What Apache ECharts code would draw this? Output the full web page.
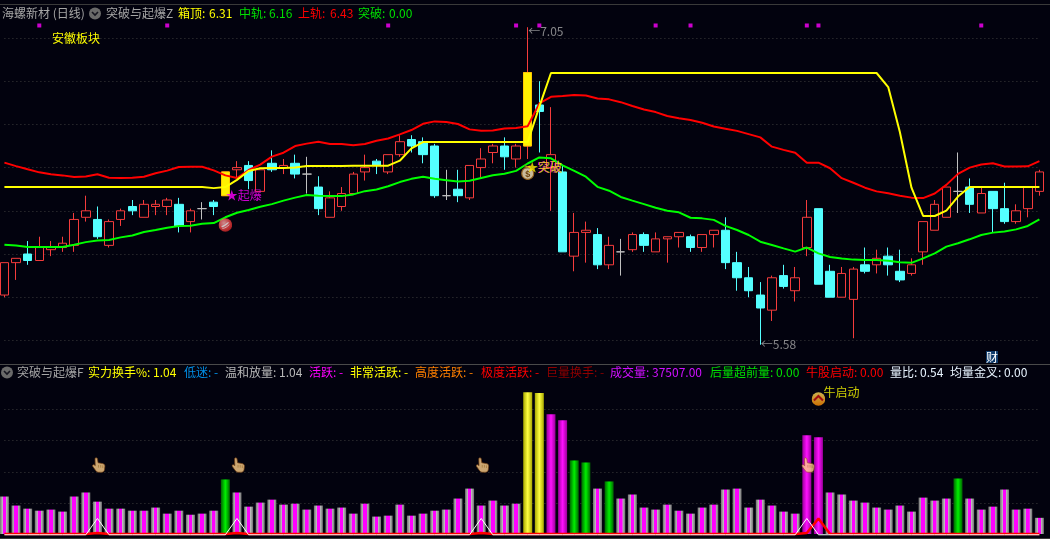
<!DOCTYPE html>
<html><head><meta charset="utf-8">
<style>html,body{margin:0;padding:0;background:#02020e;overflow:hidden}#c{width:1050px;height:539px}</style>
<script src="https://cdn.jsdelivr.net/npm/echarts@6/dist/echarts.min.js"></script>
</head><body><div id="c"></div>
<script>
// [open, close, low, high]
const candles = [
[5.81,5.96,5.80,5.96],[5.96,5.98,5.88,5.98],[6.00,5.97,5.95,6.06],[5.97,6.03,5.97,6.08],[6.02,6.03,5.99,6.06],
[6.03,6.05,6.01,6.08],[6.04,6.16,6.01,6.19],[6.17,6.20,6.15,6.27],[6.16,6.08,6.07,6.22],[6.04,6.15,6.03,6.16],
[6.16,6.20,6.13,6.21],[6.22,6.20,6.18,6.25],[6.17,6.23,6.17,6.25],[6.22,6.23,6.18,6.25],[6.22,6.25,6.18,6.26],
[6.23,6.13,6.10,6.26],[6.15,6.20,6.10,6.21],[6.21,6.21,6.16,6.24],[6.24,6.22,6.18,6.25],[6.27,6.38,6.27,6.38],
[6.39,6.40,6.35,6.43],[6.41,6.34,6.30,6.43],[6.29,6.39,6.29,6.40],[6.42,6.39,6.38,6.48],[6.40,6.41,6.37,6.44],
[6.42,6.37,6.35,6.46],[6.37,6.37,6.28,6.45],[6.31,6.21,6.18,6.36],[6.17,6.26,6.17,6.29],[6.22,6.28,6.20,6.31],
[6.28,6.37,6.28,6.38],[6.38,6.40,6.34,6.46],[6.43,6.41,6.37,6.44],[6.38,6.46,6.37,6.46],[6.46,6.52,6.45,6.55],
[6.53,6.50,6.47,6.55],[6.52,6.46,6.42,6.54],[6.50,6.27,6.26,6.51],[6.27,6.27,6.25,6.39],[6.30,6.27,6.24,6.39],
[6.26,6.41,6.25,6.41],[6.40,6.44,6.35,6.49],[6.47,6.50,6.42,6.51],[6.50,6.45,6.39,6.54],[6.44,6.50,6.40,6.51],
[6.50,6.84,6.44,7.05],[6.69,6.66,6.47,6.80],[6.40,6.46,6.20,6.68],[6.38,6.01,6.01,6.41],[5.99,6.10,5.92,6.19],
[6.10,6.11,5.96,6.15],[6.09,5.95,5.93,6.12],[5.95,6.04,5.93,6.08],[6.01,6.01,5.90,6.07],[6.02,6.09,6.01,6.10],
[6.09,6.04,6.01,6.10],[6.01,6.07,6.01,6.10],[6.07,6.08,5.96,6.08],[6.08,6.10,6.03,6.10],[6.08,6.03,6.01,6.09],
[6.03,6.09,6.01,6.09],[6.09,6.11,6.03,6.11],[6.11,5.96,5.93,6.17],[5.96,5.89,5.83,6.01],[5.89,5.83,5.80,5.94],
[5.81,5.75,5.58,5.87],[5.74,5.89,5.69,5.90],[5.90,5.85,5.84,5.95],[5.83,5.89,5.78,5.94],[6.03,6.17,5.99,6.25],
[6.21,5.86,5.86,6.21],[5.92,5.80,5.80,5.95],[5.80,5.91,5.80,5.94],[5.79,5.93,5.61,5.94],[5.95,5.92,5.91,6.03],
[5.95,5.98,5.91,6.02],[5.99,5.95,5.90,6.03],[5.92,5.88,5.87,6.02],[5.91,5.95,5.90,5.98],[6.01,6.15,5.95,6.15],
[6.11,6.23,6.11,6.25],[6.17,6.31,6.17,6.31],[6.29,6.29,6.19,6.47],[6.31,6.23,6.19,6.35],[6.19,6.28,6.19,6.31],
[6.29,6.21,6.10,6.29],[6.21,6.15,6.14,6.33],[6.15,6.20,6.14,6.23],[6.21,6.31,6.17,6.31],[6.29,6.38,6.27,6.39]];
const upperBand = [6.423,6.407,6.392,6.378,6.369,6.364,6.356,6.359,6.369,6.353,6.352,6.353,6.358,6.374,6.386,6.403,6.404,6.404,6.387,6.364,
6.352,6.389,6.414,6.451,6.469,6.50,6.511,6.52,6.509,6.509,6.504,6.509,6.524,6.535,6.554,6.574,6.603,6.614,6.611,6.602,
6.577,6.571,6.572,6.581,6.583,6.592,6.697,6.728,6.731,6.736,6.734,6.72,6.716,6.703,6.685,6.669,6.657,6.639,6.629,6.62,
6.608,6.59,6.58,6.57,6.555,6.54,6.497,6.482,6.469,6.423,6.423,6.397,6.351,6.33,6.307,6.29,6.281,6.27,6.261,6.259,
6.28,6.32,6.371,6.40,6.414,6.42,6.405,6.405,6.406,6.43];
const midBand = [6.043,6.039,6.032,6.032,6.032,6.032,6.043,6.055,6.062,6.065,6.077,6.086,6.102,6.111,6.122,6.13,6.131,6.14,6.143,6.17,
6.191,6.204,6.219,6.231,6.247,6.261,6.273,6.27,6.268,6.268,6.276,6.291,6.299,6.314,6.333,6.348,6.358,6.348,6.342,6.336,
6.339,6.352,6.365,6.372,6.385,6.419,6.447,6.443,6.41,6.385,6.358,6.311,6.293,6.264,6.247,6.231,6.214,6.20,6.193,6.168,
6.165,6.158,6.13,6.111,6.088,6.057,6.042,6.026,6.011,6.03,6.003,5.986,5.979,5.974,5.972,5.972,5.969,5.962,5.959,5.98,
6.003,6.034,6.05,6.068,6.088,6.099,6.104,6.114,6.13,6.16];
const boxTop = [6.31,6.31,6.31,6.31,6.31,6.31,6.31,6.31,6.31,6.31,6.31,6.31,6.31,6.31,6.31,6.31,6.31,6.31,6.305,6.31,
6.343,6.384,6.397,6.398,6.398,6.40,6.407,6.407,6.407,6.407,6.409,6.409,6.409,6.409,6.432,6.489,6.518,6.518,6.518,6.518,
6.518,6.518,6.518,6.518,6.518,6.518,6.682,6.838,6.838,6.838,6.838,6.838,6.838,6.838,6.838,6.838,6.838,6.838,6.838,6.838,
6.838,6.838,6.838,6.838,6.838,6.838,6.838,6.838,6.838,6.838,6.838,6.838,6.838,6.838,6.838,6.838,6.773,6.565,6.307,6.176,
6.176,6.201,6.266,6.31,6.31,6.31,6.31,6.31,6.31,6.31];
const breakoutDays = [19,45];
const topMarkDays = [3,14,33,44,46,56,59,69,70,84];
const topMarkLevel = 7.058;
const turnover = [2.41,1.83,1.63,1.50,1.57,1.44,2.41,2.67,2.08,1.63,1.63,1.50,1.50,1.70,1.31,1.50,1.24,1.31,1.50,3.51,
2.67,1.76,2.02,2.21,1.89,1.95,1.57,1.83,1.63,1.70,1.31,1.95,1.12,1.18,1.89,1.18,1.31,1.50,1.57,2.28,
2.92,1.83,2.15,1.83,1.95,9.12,9.06,7.70,7.32,4.73,4.60,2.92,3.38,2.28,2.54,1.70,1.57,1.89,1.50,1.31,
1.70,1.89,2.86,2.92,1.70,2.21,1.83,1.44,1.31,6.35,6.22,2.67,2.54,2.15,2.02,1.70,1.57,1.83,1.44,2.34,
2.15,2.28,3.57,2.28,1.57,1.76,2.86,1.57,1.63,1.04];
const greenDays = [19,49,50,52,82];
const yellowDays = [45,46];
const magentaDays = [47,48,69,70];
const whitePeakDays = [8,20,41,69];
const redPeakDays = [70];
const redFootDays = [8,20,41,69];
const handDays = [8,20,41,69];
const handLevel = 4.44;

const categories = candles.map((_, i) => String(i));

function grad(stops){return {type:'linear',x:0,y:0,x2:1,y2:0,colorStops:stops.map(s=>({offset:s[0],color:s[1]}))};}
const styleGray = grad([[0,'#707070'],[.3,'#bcbcbc'],[.31,'#ff00ff'],[.69,'#ff00ff'],[.7,'#bcbcbc'],[1,'#707070']]);
const styleGreen = grad([[0,'#006400'],[.5,'#00f000'],[1,'#006400']]);
const styleYellow = grad([[0,'#a8a800'],[.5,'#ffff40'],[1,'#a8a800']]);
const styleMagenta = grad([[0,'#9a009a'],[.5,'#ff10ff'],[1,'#9a009a']]);
function barStyle(i){
  if(greenDays.includes(i))return styleGreen;
  if(yellowDays.includes(i))return styleYellow;
  if(magentaDays.includes(i))return styleMagenta;
  return styleGray;
}
function svg(s){return 'image://data:image/svg+xml;charset=utf8,'+encodeURIComponent(s);}
const iconHand = svg('<svg xmlns="http://www.w3.org/2000/svg" width="16" height="18" viewBox="0 0 16 18"><path d="M3.500 2c.2-1.400 2.500-1.400 2.800 0L7 6.500l5.200 1c1.800.4 2.800 1.500 2.600 3.200l-.4 3.500c-.2 1.800-1.400 3-3.200 3H7.500c-1.300 0-2.200-.6-3-1.600L1 10.800c-.7-1-.3-2 .7-2.100.7-.1 1.400.3 2.100 1.100Z" fill="#ffd08a" stroke="#8a4c14" stroke-width=".8"/><path d="M7.500 9v3M10 9v3M12.400 9.500v3" stroke="#c08838" stroke-width=".7"/></svg>');
const iconBall = svg('<svg xmlns="http://www.w3.org/2000/svg" width="14" height="14"><defs><radialGradient id="g" cx=".4" cy=".35" r=".75"><stop offset="0" stop-color="#ffb0b0"/><stop offset=".6" stop-color="#f04040"/><stop offset="1" stop-color="#b81818"/></radialGradient></defs><circle cx="7" cy="7" r="6.800" fill="url(#g)"/><path d="M3 8c2-.5 4-1.500 6-3.500l2-.3C9 6.500 6 9 3.500 9.500Z" fill="#fff" opacity=".9"/><path d="M4 10.500c3-.4 5-2 7-4" fill="none" stroke="#fff" stroke-width=".9" opacity=".8"/></svg>');
const iconBag = svg('<svg xmlns="http://www.w3.org/2000/svg" width="16" height="16"><circle cx="8" cy="9.500" r="6" fill="#fbe9bd" stroke="#b87820" stroke-width="1.200"/><path d="M5 1l3 1.500L11 1l-1 3H6Z" fill="#f2b040" stroke="#8a5a18" stroke-width=".6"/><text x="8" y="13" font-size="9" font-family="Liberation Sans" font-weight="bold" text-anchor="middle" fill="#8a5510">$</text></svg>');
const iconBull = svg('<svg xmlns="http://www.w3.org/2000/svg" width="14" height="14"><defs><linearGradient id="o" x1="0" y1="0" x2="0" y2="1"><stop offset="0" stop-color="#ffe060"/><stop offset="1" stop-color="#ff8a00"/></linearGradient></defs><circle cx="7" cy="7" r="6.800" fill="url(#o)"/><path d="M2.500 8.500L7 4l4.500 4.500" fill="none" stroke="#c81010" stroke-width="2"/></svg>');

const FONT = '"Noto Sans CJK SC"';
const topTexts = [
 ['海螺新材 (日线)',2,'#a6a6a6'],['突破与起爆Z',106,'#a6a6a6'],['箱顶:',178,'#ffff00'],['6.31',209,'#ffff00'],
 ['中轨:',239,'#00e000'],['6.16',269,'#00e000'],['上轨:',298,'#ff0000'],['6.43',330,'#ff0000'],
 ['突破:',358,'#00e000'],['0.00',389,'#00e000']];
const subTexts = [
 ['突破与起爆F',17,'#a6a6a6'],['实力换手%: 1.04',88,'#ffff00'],['低迷: -',184,'#0090e8'],['温和放量: 1.04',225,'#b8b8b8'],
 ['活跃: -',309,'#ff00ff'],['非常活跃: -',350,'#ffff00'],['高度活跃: -',415,'#ff8000'],['极度活跃: -',481,'#ff0000'],
 ['巨量换手: -',546,'#900000'],['成交量: 37507.00',610,'#d010ff'],['后量超前量: 0.00',710,'#00e000'],
 ['牛股启动: 0.00',806,'#ff0000'],['量比: 0.54',890,'#e8f4ff'],['均量金叉: 0.00',950,'#e8f4ff']];
const priceNotes = [
 {i:19,p:6.273,text:'★起爆',color:'#ff00ff',dx:0,dy:0},
 {i:45,p:6.403,text:'★',color:'#ffee00',dx:-2,dy:0},
 {i:45,p:6.403,text:'突破',color:'#ff00ff',dx:9,dy:0},
 {i:45,p:6.403,text:'突破',color:'#ffff00',dx:10,dy:0},
 {i:45,p:7.03,text:'←7.05',color:'#a8a8a8',dx:0,dy:0},
 {i:65,p:5.58,text:'←5.58',color:'#a8a8a8',dx:0,dy:0}];

function head(t){return {type:'text',silent:true,z:20,style:{text:t[0],x:t[1],y:t.y,fill:t[2],font:'12px '+FONT,textVerticalAlign:'middle'}};}
function chevron(cx,cy){return [
 {type:'circle',silent:true,z:20,shape:{cx:cx,cy:cy,r:6},style:{fill:'#6a6a6a'}},
 {type:'polyline',silent:true,z:21,shape:{points:[[cx-3,cy-1.5],[cx,cy+1.5],[cx+3,cy-1.5]]},style:{stroke:'#15151f',lineWidth:1.6,fill:'none'}}];}
const graphics = [
 {type:'rect',silent:true,z:19,shape:{x:0,y:4,width:1050,height:1},style:{fill:'#3a3a3a'}},
 {type:'rect',silent:true,z:19,shape:{x:0,y:364,width:1050,height:1},style:{fill:'#4a4a4a'}},
 {type:'rect',silent:true,z:19,shape:{x:0,y:538,width:1050,height:1},style:{fill:'#3a3a3a'}},
 ...chevron(95,13.500),...chevron(7,372.500),
 ...topTexts.map(t=>head(Object.assign(t,{y:13.500}))),
 ...subTexts.map(t=>head(Object.assign(t,{y:372.500}))),
 {type:'text',silent:true,z:20,style:{text:'安徽板块',x:52,y:38,fill:'#ffff00',font:'12px '+FONT,textVerticalAlign:'middle'}},
 {type:'text',silent:true,z:20,style:{text:'财',x:986,y:357,fill:'#ffffff',backgroundColor:'#0f3a6a',font:'12px '+FONT,textVerticalAlign:'middle'}}
];

const chart = echarts.init(document.getElementById('c'),null,{renderer:'canvas',width:1050,height:539});
const dotted = {show:true,lineStyle:{color:'#3c3c3c',width:1,type:[1,3]},showMinLine:false,showMaxLine:false};
const hiddenX = g=>({type:'category',gridIndex:g,data:categories,boundaryGap:false,axisLine:{show:false},axisTick:{show:false},axisLabel:{show:false},splitLine:{show:false}});
function line(name,data,color,width,z,xi,yi){return {name,type:'line',data,xAxisIndex:xi,yAxisIndex:yi,showSymbol:false,symbol:'none',silent:true,clip:false,z,lineStyle:{color,width},itemStyle:{color}};}
const peakSeries = (days,foot)=>turnover.map((_,i)=>days.includes(i)?1:(foot||0));
chart.setOption({
 animation:false,
 backgroundColor:'#02020e',
 graphic:graphics,
 grid:[{left:4.4,width:1035,top:0,height:383.6},{left:4.4,width:1035,top:378.5,height:155.5}],
 xAxis:[hiddenX(0),hiddenX(1)],
 yAxis:[
  {type:'value',gridIndex:0,min:5.4,max:7.176,interval:0.2,axisLine:{show:false},axisTick:{show:false},axisLabel:{show:false},splitLine:dotted},
  {type:'value',gridIndex:1,min:0,max:10,interval:2,axisLine:{show:false},axisTick:{show:false},axisLabel:{show:false},splitLine:dotted}],
 series:[
  {name:'K',type:'candlestick',data:candles,barWidth:9,silent:true,clip:false,z:2,
   itemStyle:{color:'#02020e',color0:'#54ffff',borderColor:'#f53c3c',borderColor0:'#54ffff',borderColorDoji:'#c0c0c0',borderWidth:1}},
  {name:'break',type:'candlestick',data:candles.map((c,i)=>breakoutDays.includes(i)?[c[0],c[1],c[0],c[1]]:'-'),barWidth:8,silent:true,clip:false,z:3,
   itemStyle:{color:'#fff000',color0:'#fff000',borderColor:'#ffc800',borderColor0:'#ffc800',borderWidth:1}},
  line('上轨',upperBand,'#ff0000',2,4,0,0),
  line('中轨',midBand,'#00ff00',2,4,0,0),
  line('箱顶',boxTop,'#ffff00',2,5,0,0),
  {name:'marks',type:'scatter',data:topMarkDays.map(i=>[i,topMarkLevel]),symbol:'rect',symbolSize:4,silent:true,z:6,itemStyle:{color:'#ff00ff'}},
  {name:'ball',type:'scatter',data:[[19,6.134]],symbol:iconBall,symbolSize:14,silent:true,z:7},
  {name:'bag',type:'scatter',data:[[45,6.38]],symbol:iconBag,symbolSize:16,silent:true,z:7},
  {name:'notes',type:'scatter',symbolSize:1,silent:true,z:8,itemStyle:{color:'rgba(0,0,0,0)'},
   data:priceNotes.map(n=>({value:[n.i,n.p],label:{show:true,position:'right',distance:0,offset:[n.dx,n.dy],formatter:n.text,color:n.color,fontFamily:FONT,fontSize:12}}))},
  {name:'turnover',type:'bar',xAxisIndex:1,yAxisIndex:1,barWidth:9,silent:true,clip:false,z:2,
   data:turnover.map((v,i)=>({value:v,itemStyle:{color:barStyle(i)}}))},
  line('red',peakSeries(redPeakDays).map((v,i)=>redFootDays.includes(i)?0.07:v),'#ff0000',2.500,4,1,1),
  line('white',peakSeries(whitePeakDays).map(v=>v||-0.05),'#ffffff',1,5,1,1),
  {name:'hands',type:'scatter',xAxisIndex:1,yAxisIndex:1,data:handDays.map(i=>[i,handLevel]),symbol:iconHand,symbolSize:[14,16],symbolOffset:[1.500,0],silent:true,z:7},
  {name:'bull',type:'scatter',xAxisIndex:1,yAxisIndex:1,data:[[70,8.68]],symbol:iconBull,symbolSize:14,silent:true,z:7,
   label:{show:true,position:'right',distance:-2,offset:[0,-7],formatter:'牛启动',color:'#ffff00',fontFamily:FONT,fontSize:12}}
 ]
});
</script></body></html>
